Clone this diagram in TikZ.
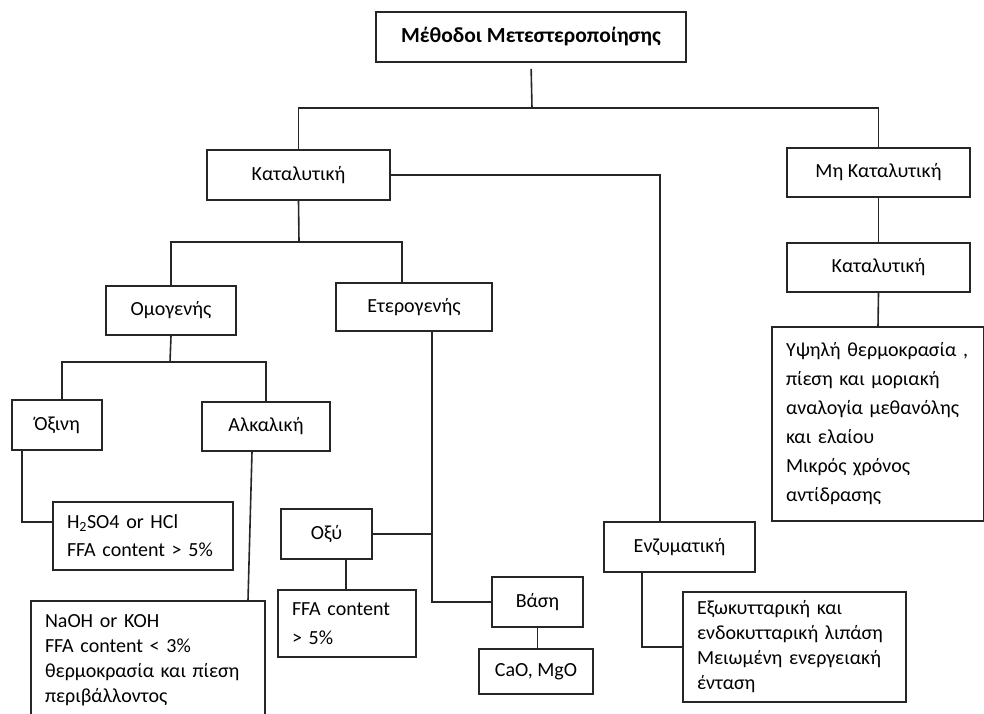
\documentclass[tikz,border=0pt]{standalone}
\usepackage{fontspec}
\setmainfont{Carlito}
\tikzset{
        box/.style 2 args={draw=black!85,line width=1.6pt,minimum width=#1,minimum height=#2,inner sep=0pt,font=\fontsize{20}{24}\selectfont},
        txtbox/.style n args={3}{draw=black!85,line width=1.6pt,text width=#1,minimum height=#2,inner xsep=14pt,inner ysep=0pt,align=left,font=\fontsize{20}{#3}\selectfont},
        link/.style={draw=black!85,line width=1.6pt}
}
\begin{document}
\begin{tikzpicture}[x=1pt,y=-1pt]
        \useasboundingbox (0,0) rectangle (984,713);
        \node[box={310pt}{50pt},font=\fontsize{21.5}{24}\selectfont\bfseries] (title) at (531,37) {Μέθοδοι Μετεστεροποίησης};
        \node[box={183pt}{50pt}] (kat) at (298.5,175) {Καταλυτική};
        \node[box={183pt}{49pt}] (mkat) at (878.5,172.5) {Μη Καταλυτική};
        \node[box={183pt}{49pt}] (kat2) at (878.5,267.5) {Καταλυτική};
        \node[txtbox={184pt}{194pt}{29}] (ypsili) at (878,424) {Υψηλή θερμοκρασία ,\\ πίεση και μοριακή\\ αναλογία μεθανόλης\\ και ελαίου\\ Μικρός χρόνος\\ αντίδρασης};
        \node[box={130pt}{49pt}] (omo) at (171,310.5) {Ομογενής};
        \node[box={156pt}{48pt}] (ete) at (414,307) {Ετερογενής};
        \node[box={90pt}{50pt}] (oxini) at (57,425) {Όξινη};
        \node[box={128pt}{49pt}] (alk) at (266,426.5) {Αλκαλική};
        \node[txtbox={152pt}{68pt}{28}] (h2so4) at (143,536) {H\textsubscript{2}SO4 or HCl\\ FFA content > 5\%};
        \node[txtbox={206pt}{118pt}{25}] (naoh) at (148,660) {NaOH or KOH\\ FFA content < 3\%\\ θερμοκρασία και πίεση\\ περιβάλλοντος};
        \node[box={91pt}{50pt}] (oxy) at (326.5,534) {Οξύ};
        \node[txtbox={110pt}{67pt}{29}] (ffa) at (347,623.5) {FFA content\\ > 5\%};
        \node[box={91pt}{50pt}] (vasi) at (537.5,602) {Βάση};
        \node[box={114pt}{45pt}] (cao) at (536,671.5) {CaO, MgO};
        \node[box={151pt}{50pt}] (enz) at (679.5,547) {Ενζυματική};
        \node[txtbox={195pt}{110pt}{25}] (exo) at (794.5,647) {Εξωκυτταρική και\\ ενδοκυτταρική λιπάση\\ Μειωμένη ενεργειακή\\ ένταση};

        \coordinate (j0) at (532,108);
        \coordinate (j1) at (299,242);
        \coordinate (j2) at (170,362);
        \coordinate (j3) at ([xshift=18pt]ete.south);
        \draw[link,shorten <=6pt] (title.south) -- (j0);
        \draw[link] (kat.north) |- (j0) -| (mkat.north);
        \draw[link] (kat.east) -| ([xshift=-19.5pt]enz.north);
        \draw[link] (kat.south) -- (j1);
        \draw[link] (omo.north) |- (j1) -| ([xshift=-12pt]ete.north);
        \draw[link] (omo.south) -- (j2);
        \draw[link] ([xshift=5pt]oxini.north) |- (j2) -| (alk.north);
        \draw[link] ([xshift=-35pt]oxini.south) |- ([yshift=14pt]h2so4.west);
        \draw[link] ([xshift=-14pt]alk.south) -- ([xshift=100pt]naoh.north);
        \draw[link] (j3) |- (vasi.west);
        \draw[link] (oxy.east) -- (oxy.east -| j3);
        \draw[link] ([xshift=19.5pt]oxy.south) -- ([xshift=19.5pt]oxy.south |- ffa.north);
        \draw[link] (vasi.south) -- (vasi.south |- cao.north);
        \draw[link] ([xshift=-37.5pt]enz.south) |- (exo.west);
        \draw[link] (mkat.south) -- (kat2.north);
        \draw[link] (kat2.south) -- (ypsili.north);
\end{tikzpicture}
\end{document}
